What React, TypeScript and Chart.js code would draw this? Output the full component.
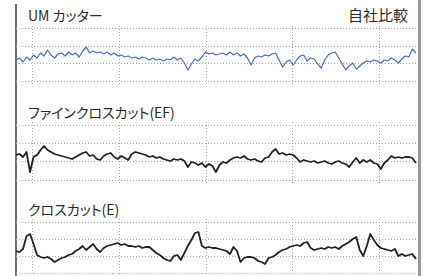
import React, { useEffect, useRef } from "react";
import { Chart, registerables } from "chart.js";

Chart.register(...registerables);

// Sample index along the measured length (one value per sample)
const gridPositions = [4.8, 29.5, 54.2, 78.9, 103.6];
const xMax = 114.6;

// Titles
const titleUM = "UM カッター";
const titleEF = "ファインクロスカット(EF)";
const titleE = "クロスカット(E)";
const compareLabel = "自社比較";

// Surface profile heights above each panel's lowest grid line
const umValues = [
  21, 23, 19, 24, 21, 26, 23, 28, 25, 31,
  26, 23, 27, 28, 25, 29, 26, 28, 24, 30,
  34, 28, 30, 28, 29, 27, 29, 26, 28, 25,
  26, 24, 25, 23, 24, 22, 24, 23, 21, 23,
  21, 22, 20, 22, 21, 24, 21, 23, 18, 11,
  17, 22, 20, 24, 29, 27, 28, 26, 27, 28,
  26, 29, 26, 28, 25, 27, 23, 16, 23, 25,
  24, 26, 25, 27, 28, 21, 14, 19, 21, 16,
  21, 25, 26, 20, 23, 22, 17, 13, 21, 26,
  28, 29, 23, 17, 11, 15, 18, 12, 15, 18,
  20, 19, 21, 20, 18, 21, 20, 23, 21, 18,
  22, 25, 24, 32, 28,
];

const efValues = [
  25, 26, 23, 28, 8, 23, 25, 30, 34, 30,
  28, 26, 25, 24, 23, 22, 21, 23, 25, 27,
  28, 24, 25, 21, 20, 24, 26, 27, 23, 21,
  24, 22, 20, 26, 28, 27, 26, 25, 23, 24,
  22, 23, 21, 20, 19, 21, 20, 21, 19, 13,
  18, 17, 15, 17, 13, 16, 14, 8, 15, 18,
  17, 20, 22, 23, 22, 24, 21, 20, 21, 19,
  18, 22, 23, 28, 31, 26, 27, 25, 26, 25,
  22, 18, 20, 19, 18, 19, 17, 18, 19, 17,
  16, 18, 19, 17, 16, 13, 18, 22, 17, 20,
  18, 20, 17, 16, 11, 17, 20, 24, 22, 23,
  22, 23, 23, 22, 17,
];

const eValues = [
  22, 21, 24, 37, 39, 29, 18, 16, 15, 16,
  14, 11, 13, 15, 16, 18, 19, 22, 24, 27,
  23, 26, 29, 24, 21, 25, 27, 28, 29, 30,
  28, 29, 27, 27, 26, 27, 25, 26, 26, 23,
  20, 18, 15, 13, 12, 17, 18, 13, 20, 27,
  33, 40, 41, 27, 25, 26, 25, 25, 24, 23,
  22, 19, 26, 22, 11, 15, 16, 16, 15, 12,
  11, 9, 15, 16, 18, 21, 23, 24, 26, 27,
  28, 27, 30, 31, 25, 23, 24, 25, 24, 26,
  25, 26, 24, 27, 29, 31, 34, 36, 23, 17,
  27, 39, 33, 28, 25, 24, 23, 22, 24, 17,
  19, 17, 18, 19, 14,
];

type PanelProps = {
  values: number[];
  color: string;
  lineWidth: number;
  top: number;
  range: number;
};

const PAD = 3;

function Panel({ values, color, lineWidth, top, range }: PanelProps) {
  const ref = useRef<HTMLCanvasElement | null>(null);
  useEffect(() => {
    if (!ref.current) return;
    const chart = new Chart(ref.current, {
      type: "line",
      data: {
        datasets: [
          {
            data: values.map((v, i) => ({ x: i, y: v })),
            borderColor: color,
            borderWidth: lineWidth,
            pointRadius: 0,
            tension: 0,
            borderJoinStyle: "round",
            fill: false,
          },
        ],
      },
      options: {
        responsive: false,
        animation: false,
        events: [],
        layout: { padding: 0 },
        plugins: { legend: { display: false }, tooltip: { enabled: false } },
        scales: {
          x: {
            type: "linear",
            min: 0,
            max: xMax,
            ticks: { display: false },
            border: { display: false, dash: [1, 2] },
            grid: { color: "#a8a8a8", lineWidth: 1, drawTicks: false },
            afterBuildTicks: (scale: any) => {
              scale.ticks = gridPositions.map((v) => ({ value: v }));
            },
          },
          y: {
            type: "linear",
            min: -PAD,
            max: range + PAD,
            ticks: { display: false },
            border: { display: false, dash: [1, 2] },
            grid: { color: "#a8a8a8", lineWidth: 1, drawTicks: false },
            afterBuildTicks: (scale: any) => {
              scale.ticks = [0, range / 3, (2 * range) / 3, range].map((v) => ({ value: v }));
            },
          },
        },
      },
    });
    return () => chart.destroy();
  }, [values, color, lineWidth, top, range]);
  return (
    <canvas
      ref={ref}
      width={402}
      height={range + 2 * PAD}
      style={{ position: "absolute", left: 16, top: top - PAD, width: 402, height: range + 2 * PAD, display: "block" }}
    />
  );
}

const titleStyle: React.CSSProperties = {
  position: "absolute",
  fontFamily: '"Noto Sans CJK JP", "Noto Sans", sans-serif',
  fontSize: 14,
  color: "#2a2a2a",
  whiteSpace: "nowrap",
  lineHeight: "16px",
  fontFeatureSettings: '"palt"',
};

export default function App() {
  return (
    <div
      style={{
        position: "fixed",
        left: 0,
        top: 0,
        width: 426,
        height: 276,
        background: "#fff",
        overflow: "hidden",
      }}
    >
      <div style={{ position: "absolute", left: 15, top: 4, width: 2, height: 272, background: "#6f6f6f" }} />
      <div style={{ position: "absolute", left: 418, top: 0, width: 3, height: 276, background: "#999" }} />
      <div style={{ ...titleStyle, left: 28, top: 7 }}>{titleUM}</div>
      <div style={{ ...titleStyle, left: 348, top: 7, fontSize: 15, fontFeatureSettings: "normal" }}>{compareLabel}</div>
      <div style={{ ...titleStyle, left: 28, top: 104 }}>{titleEF}</div>
      <div style={{ ...titleStyle, left: 28, top: 201 }}>{titleE}</div>
      <Panel values={umValues} color="#4a6cc0" lineWidth={1.2} top={29} range={52} />
      <Panel values={efValues} color="#222" lineWidth={1.8} top={125} range={55} />
      <Panel values={eValues} color="#222" lineWidth={1.8} top={222} range={51} />
    </div>
  );
}
